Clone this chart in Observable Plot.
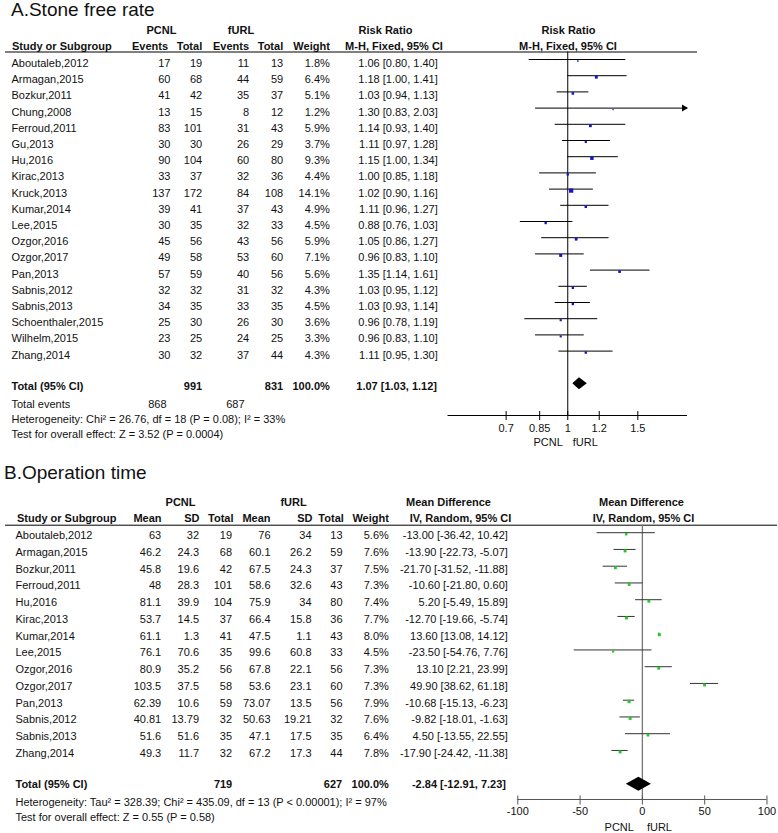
<!DOCTYPE html>
<html><head><meta charset="utf-8">
<script src="https://cdn.jsdelivr.net/npm/d3@7"></script>
<script src="https://cdn.jsdelivr.net/npm/@observablehq/plot@0.6"></script>
<style>
body{margin:0;background:#fff;font-family:"Liberation Sans",Arial,Helvetica,sans-serif;}
#wrap{width:778px;height:833px;position:relative;overflow:hidden;background:#fff}
.title{font-size:19px;line-height:20px;height:20px;color:#111;white-space:nowrap}
svg{display:block;overflow:visible}
</style></head><body><div id="wrap">
<div class="title" style="padding-left:11px">A.Stone free rate</div>
<div id="pA"></div>
<div class="title" style="padding-left:4px;margin-top:3.3px">B.Operation time</div>
<div id="pB"></div>
</div>
<script>
// ---------- Panel A data: Stone free rate ----------
const studiesA = ["Aboutaleb,2012","Armagan,2015","Bozkur,2011","Chung,2008","Ferroud,2011","Gu,2013","Hu,2016","Kirac,2013","Kruck,2013","Kumar,2014","Lee,2015","Ozgor,2016","Ozgor,2017","Pan,2013","Sabnis,2012","Sabnis,2013","Schoenthaler,2015","Wilhelm,2015","Zhang,2014"];
const pcnlEventsA = [17,60,41,13,83,30,90,33,137,39,30,45,49,57,32,34,25,23,30];
const pcnlTotalA  = [19,68,42,15,101,30,104,37,172,41,35,56,58,59,32,35,30,25,32];
const furlEventsA = [11,44,35,8,31,26,60,32,84,37,32,43,53,40,31,33,26,24,37];
const furlTotalA  = [13,59,37,12,43,29,80,36,108,43,33,56,60,56,32,35,30,25,44];
const weightA = [1.8,6.4,5.1,1.2,5.9,3.7,9.3,4.4,14.1,4.9,4.5,5.9,7.1,5.6,4.3,4.5,3.6,3.3,4.3];
const rrA   = [1.06,1.18,1.03,1.30,1.14,1.11,1.15,1.00,1.02,1.11,0.88,1.05,0.96,1.35,1.03,1.03,0.96,0.96,1.11];
const rrLoA = [0.80,1.00,0.94,0.83,0.93,0.97,1.00,0.85,0.90,0.96,0.76,0.86,0.83,1.14,0.95,0.93,0.78,0.83,0.95];
const rrHiA = [1.40,1.41,1.13,2.03,1.40,1.28,1.34,1.18,1.16,1.27,1.03,1.27,1.10,1.61,1.12,1.14,1.19,1.10,1.30];
const totalA = [991, 831];          // PCNL total, fURL total
const totalEventsA = [868, 687];
const pooledA = [1.07, 1.03, 1.12];  // estimate, lower, upper
const ticksA = [0.7, 0.85, 1, 1.2, 1.5];
const domainA = [0.5, 2];
const hetA = "Heterogeneity: Chi\u00b2 = 26.76, df = 18 (P = 0.08); I\u00b2 = 33%";
const testA = "Test for overall effect: Z = 3.52 (P = 0.0004)";

// ---------- Panel B data: Operation time ----------
const studiesB = ["Aboutaleb,2012","Armagan,2015","Bozkur,2011","Ferroud,2011","Hu,2016","Kirac,2013","Kumar,2014","Lee,2015","Ozgor,2016","Ozgor,2017","Pan,2013","Sabnis,2012","Sabnis,2013","Zhang,2014"];
const pcnlMeanB = [63,46.2,45.8,48,81.1,53.7,61.1,76.1,80.9,103.5,62.39,40.81,51.6,49.3];
const pcnlSDB   = [32,24.3,19.6,28.3,39.9,14.5,1.3,70.6,35.2,37.5,10.6,13.79,51.6,11.7];
const pcnlNB    = [19,68,42,101,104,37,41,35,56,58,59,32,35,32];
const furlMeanB = [76,60.1,67.5,58.6,75.9,66.4,47.5,99.6,67.8,53.6,73.07,50.63,47.1,67.2];
const furlSDB   = [34,26.2,24.3,32.6,34,15.8,1.1,60.8,22.1,23.1,13.5,19.21,17.5,17.3];
const furlNB    = [13,59,37,43,80,36,43,33,56,60,56,32,35,44];
const weightB = [5.6,7.6,7.5,7.3,7.4,7.7,8.0,4.5,7.3,7.3,7.9,7.6,6.4,7.8];
const mdB   = [-13.00,-13.90,-21.70,-10.60,5.20,-12.70,13.60,-23.50,13.10,49.90,-10.68,-9.82,4.50,-17.90];
const mdLoB = [-36.42,-22.73,-31.52,-21.80,-5.49,-19.66,13.08,-54.76,2.21,38.62,-15.13,-18.01,-13.55,-24.42];
const mdHiB = [10.42,-5.07,-11.88,0.60,15.89,-5.74,14.12,7.76,23.99,61.18,-6.23,-1.63,22.55,-11.38];
const totalB = [719, 627];
const pooledB = [-2.84, -12.91, 7.23];
const ticksB = [-100, -50, 0, 50, 100];
const domainB = [-100, 100];
const hetB = "Heterogeneity: Tau\u00b2 = 328.39; Chi\u00b2 = 435.09, df = 13 (P < 0.00001); I\u00b2 = 97%";
const testB = "Test for overall effect: Z = 0.55 (P = 0.58)";

// ---------- helpers ----------
const FONT = '"Liberation Sans", Arial, Helvetica, sans-serif';
const f2 = v => v.toFixed(2);
const ci = (e, l, h) => `${f2(e)} [${f2(l)}, ${f2(h)}]`;
const pct = w => w.toFixed(1) + "%";

// a single text cell (x in page pixels, y in row units)
function cell(text, x, y, anchor = "start", bold = false) {
  return Plot.text([text], {text: d => d, y: () => y, frameAnchor: "left", dx: x,
    textAnchor: anchor, fontWeight: bold ? "bold" : "normal", fill: "#111"});
}
// a column of text cells, one per study row
function column(values, x, anchor = "end") {
  return Plot.text(values, {text: d => String(d), y: (d, i) => i, frameAnchor: "left", dx: x,
    textAnchor: anchor, fill: "#111"});
}

// ---------- Panel A ----------
{
  const top = 20, H = 440, first = 63, step = 16.2;
  const r = py => (py - first) / step;           // page y -> row units
  const axisY = 415;
  const idx = d3.range(studiesA.length);
  const [est, lo, hi] = pooledA;
  const yT = r(385.7), hD = 6 / step;
  const diamond = [
    {y: yT - hD, x1: est, x2: est},
    {y: yT, x1: lo, x2: hi},
    {y: yT + hD, x1: est, x2: est}
  ];
  const chart = Plot.plot({
    width: 778, height: H,
    marginLeft: 0, marginRight: 0, marginTop: 0, marginBottom: H - (axisY - top),
    x: {type: "log", domain: domainA, range: [447.5, 687], axis: null},
    y: {domain: [0, 1], range: [first - top, first - top + step], axis: null},
    r: {type: "sqrt", domain: [0, 14.1], range: [0, 2.4]},
    style: {fontFamily: FONT, fontSize: "11px", color: "#111", background: "#fff", overflow: "visible"},
    marks: [
      // header
      cell("PCNL", 161, r(30), "middle", true),
      cell("fURL", 240.5, r(30), "middle", true),
      cell("Risk Ratio", 385, r(30), "middle", true),
      cell("Risk Ratio", 568, r(30), "middle", true),
      cell("Study or Subgroup", 11.5, r(46), "start", true),
      cell("Events", 167.5, r(46), "end", true),
      cell("Total", 201.7, r(46), "end", true),
      cell("Events", 248.5, r(46), "end", true),
      cell("Total", 282.7, r(46), "end", true),
      cell("Weight", 329.3, r(46), "end", true),
      cell("M-H, Fixed, 95% CI", 393.5, r(46), "middle", true),
      cell("M-H, Fixed, 95% CI", 567.5, r(46), "middle", true),
      Plot.ruleY([r(51.5)], {insetLeft: 5, insetRight: 81, stroke: "#000"}),
      // table body
      column(studiesA, 11, "start"),
      column(pcnlEventsA, 170),
      column(pcnlTotalA, 201.7),
      column(furlEventsA, 248.7),
      column(furlTotalA, 282.7),
      column(weightA.map(pct), 329.3),
      column(idx.map(i => ci(rrA[i], rrLoA[i], rrHiA[i])), 437.3),
      // totals
      cell("Total (95% CI)", 11, yT, "start", true),
      cell(String(totalA[0]), 201.7, yT, "end", true),
      cell(String(totalA[1]), 282.7, yT, "end", true),
      cell("100.0%", 329.3, yT, "end", true),
      cell(ci(est, lo, hi), 436.5, yT, "end", true),
      cell("Total events", 11, r(404), "start"),
      cell(String(totalEventsA[0]), 166, r(404), "end"),
      cell(String(totalEventsA[1]), 244, r(404), "end"),
      cell(hetA, 11, r(419), "start"),
      cell(testA, 11, r(434), "start"),
      // forest
      Plot.ruleX([1], {y1: r(51.5), y2: r(axisY), stroke: "#000"}),
      Plot.ruleY(idx, {y: i => i, x1: i => rrLoA[i], x2: i => Math.min(rrHiA[i], domainA[1]), dy: -4, stroke: "#000"}),
      Plot.dot(idx.filter(i => rrHiA[i] > domainA[1]), {x: () => domainA[1], y: i => i, dy: -4, dx: -3.5,
        symbol: "triangle", rotate: 90, r: 2.6, fill: "#000", stroke: "none"}),
      Plot.dot(idx, {x: i => rrA[i], y: i => i, r: i => weightA[i], dy: -2.5, symbol: "square", fill: "#1414cc", stroke: "none"}),
      Plot.areaX(diamond, {y: "y", x1: "x1", x2: "x2", fill: "#000", dy: -2.5}),
      // axis
      Plot.ruleY([r(axisY)], {x1: () => domainA[0], x2: () => domainA[1], stroke: "#000"}),
      Plot.ruleX(ticksA, {x: d => d, y1: r(axisY - 4), y2: r(axisY + 5), stroke: "#000"}),
      Plot.text(ticksA, {x: d => d, y: () => r(427.5), text: d => String(d), fill: "#111"}),
      Plot.text(["PCNL"], {text: d => d, x: () => 1, y: () => r(442), dx: -5, textAnchor: "end", fill: "#111"}),
      Plot.text(["fURL"], {text: d => d, x: () => 1, y: () => r(442), dx: 5, textAnchor: "start", fill: "#111"})
    ]
  });
  document.getElementById("pA").append(chart);
}

// ---------- Panel B ----------
{
  const top = 483.3, H = 349.7, first = 535.5, step = 16.75;
  const r = py => (py - first) / step;
  const axisY = 799.3;
  const idx = d3.range(studiesB.length);
  const [est, lo, hi] = pooledB;
  const yT = r(784), hD = 7 / step;
  const diamond = [
    {y: yT - hD, x1: est, x2: est},
    {y: yT, x1: lo, x2: hi},
    {y: yT + hD, x1: est, x2: est}
  ];
  const chart = Plot.plot({
    width: 778, height: H,
    marginLeft: 0, marginRight: 0, marginTop: 0, marginBottom: H - (axisY - top),
    x: {type: "linear", domain: domainB, range: [517.3, 766.5]},
    y: {domain: [0, 1], range: [first - top, first - top + step], axis: null},
    r: {type: "sqrt", domain: [0, 8], range: [0, 1.7]},
    style: {fontFamily: FONT, fontSize: "11px", color: "#111", background: "#fff", overflow: "visible"},
    marks: [
      cell("PCNL", 180, r(502.5), "middle", true),
      cell("fURL", 293, r(502.5), "middle", true),
      cell("Mean Difference", 448, r(502.5), "middle", true),
      cell("Mean Difference", 641, r(502.5), "middle", true),
      cell("Study or Subgroup", 16.5, r(518.7), "start", true),
      cell("Mean", 161, r(518.7), "end", true),
      cell("SD", 199, r(518.7), "end", true),
      cell("Total", 233, r(518.7), "end", true),
      cell("Mean", 270, r(518.7), "end", true),
      cell("SD", 312, r(518.7), "end", true),
      cell("Total", 343.3, r(518.7), "end", true),
      cell("Weight", 388.3, r(518.7), "end", true),
      cell("IV, Random, 95% CI", 460, r(518.7), "middle", true),
      cell("IV, Random, 95% CI", 643, r(518.7), "middle", true),
      Plot.ruleY([r(525)], {insetLeft: 5, insetRight: 1, stroke: "#000"}),
      column(studiesB, 15, "start"),
      column(pcnlMeanB, 160.7),
      column(pcnlSDB, 198.5),
      column(pcnlNB, 231.5),
      column(furlMeanB, 270),
      column(furlSDB, 311),
      column(furlNB, 342),
      column(weightB.map(pct), 388.3),
      column(idx.map(i => ci(mdB[i], mdLoB[i], mdHiB[i])), 507.3),
      cell("Total (95% CI)", 15, yT, "start", true),
      cell(String(totalB[0]), 231.7, yT, "end", true),
      cell(String(totalB[1]), 341.7, yT, "end", true),
      cell("100.0%", 388.3, yT, "end", true),
      cell(ci(est, lo, hi), 505.5, yT, "end", true),
      cell(hetB, 15, r(802), "start"),
      cell(testB, 15, r(817.7), "start"),
      // forest
      Plot.ruleX([0], {y1: r(525), y2: r(axisY), stroke: "#777", strokeWidth: 1.3}),
      Plot.ruleY(idx, {y: i => i, x1: i => mdLoB[i], x2: i => mdHiB[i], dy: -3, stroke: "#333"}),
      Plot.dot(idx, {x: i => mdB[i], y: i => i, r: i => weightB[i], dy: -1.5, symbol: "square", fill: "#1fcc1f", stroke: "none"}),
      Plot.areaX(diamond, {y: "y", x1: "x1", x2: "x2", fill: "#000"}),
      Plot.ruleY([r(axisY)], {x1: () => domainB[0], x2: () => domainB[1], stroke: "#555"}),
      Plot.ruleX(ticksB, {x: d => d, y1: r(axisY - 3.5), y2: r(axisY), stroke: "#555"}),
      Plot.axisX(ticksB, {anchor: "bottom", tickSize: 5.5, tickPadding: 2, tickFormat: d => String(d), label: null, stroke: "#555", fill: "#111", fontSize: 11}),
      Plot.text(["PCNL"], {text: d => d, x: () => 0, y: () => r(827.7), dx: -8.5, textAnchor: "end", fill: "#111"}),
      Plot.text(["fURL"], {text: d => d, x: () => 0, y: () => r(827.7), dx: 4.5, textAnchor: "start", fill: "#111"})
    ]
  });
  document.getElementById("pB").append(chart);
}
</script>
</body></html>
